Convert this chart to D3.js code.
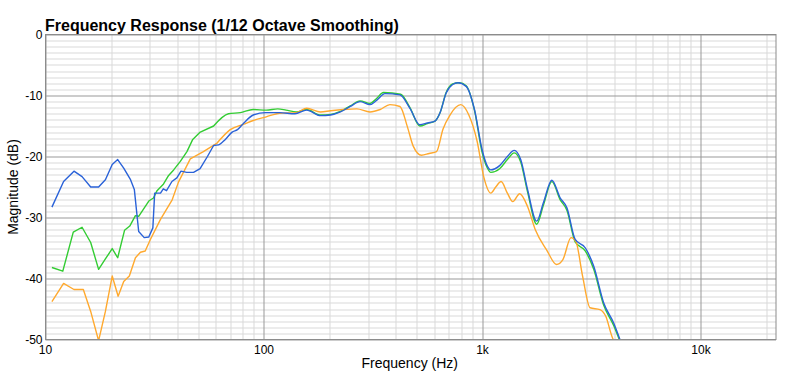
<!DOCTYPE html>
<html>
<head>
<meta charset="utf-8">
<script src="https://cdn.jsdelivr.net/npm/d3@7"></script>
<style>
body{margin:0;background:#fff;}
svg text{font-family:"Liberation Sans",Arial,Helvetica,sans-serif;fill:#000;}
</style>
</head>
<body>
<svg id="chart" width="808" height="379"></svg>
<script>
/** data: [frequency Hz, magnitude dB] */
var blueSeries = [
	[10.7,-28.3],[12.1,-24.1],[13.5,-22.4],[14.7,-23.3],[16.1,-25.0],[17.5,-25.0],[18.8,-23.8],
	[20.2,-21.3],[21.4,-20.5],[22.8,-21.9],[24.5,-23.8],[25.5,-25.4],[26.7,-32.3],[28.3,-33.3],
	[29.7,-33.2],[31.0,-31.7],[31.6,-26.0],[33.6,-26.0],[34.6,-25.3],[35.8,-25.6],[37.9,-24.1],
	[39.9,-23.5],[41.7,-22.4],[44.3,-22.6],[47.6,-22.6],[51.0,-22.0],[55.1,-20.0],[58.8,-18.2],
	[62.0,-18.1],[66.5,-17.2],[71.5,-16.0],[75.6,-15.6],[80.9,-14.5],[89.3,-13.2],[101.6,-12.8],
	[117.9,-12.8],[138.6,-13.0],[156.8,-12.4],[181.4,-13.3],[201.7,-13.2],[223.7,-12.7],
	[248.2,-11.8],[275.4,-11.0],[305.6,-11.5],[327.6,-10.8],[357.7,-9.7],[419,-9.9],[465.6,-12.1],
	[517,-14.8],[560,-14.5],[606,-14.2],[640,-12.8],[682,-9.6],[730,-8.2],[771,-7.9],[842,-8.5],
	[919,-12.3],[996,-18.9],[1050,-21.5],[1092,-22.2],[1198,-21.5],[1300,-20.0],[1397,-19.0],
	[1496,-20.5],[1608,-25.4],[1771,-30.6],[1900,-27.6],[2077,-23.9],[2269,-26.8],[2434,-28.4],
	[2656,-33.6],[2958,-35.0],[3230,-38.0],[3589,-44.0],[3985,-47.3],[4277,-50.2]
];
var greenSeries = [
	[10.7,-38.2],[12.0,-38.8],[13.4,-32.4],[14.7,-31.6],[16.1,-34.1],[17.5,-38.5],[18.8,-36.8],
	[20.2,-35.1],[21.4,-36.6],[23.0,-32.1],[24.3,-31.4],[25.8,-29.7],[26.7,-29.8],[29.7,-27.3],
	[31.2,-26.8],[32.4,-25.6],[34.7,-24.5],[36.6,-23.1],[38.6,-22.2],[41.4,-20.8],[44.4,-19.2],
	[47.2,-17.2],[51.1,-16.0],[58.8,-15.0],[68.8,-13.0],[77.9,-12.8],[89.3,-12.3],[102.4,-12.4],
	[115.6,-12.2],[126.2,-12.4],[140.8,-12.7],[156.8,-12.3],[181.4,-13.2],[201.7,-13.1],
	[223.7,-12.6],[248.2,-11.7],[275.4,-10.9],[305.6,-11.3],[327.6,-10.5],[352,-9.5],[422,-9.8],
	[465.6,-12.0],[517,-15.0],[560,-14.6],[606,-14.2],[640,-12.8],[682,-9.5],[730,-8.1],
	[784,-7.9],[842,-8.4],[919,-12.4],[996,-19.3],[1050,-21.8],[1092,-22.6],[1198,-22.0],
	[1300,-20.5],[1397,-19.4],[1496,-20.9],[1608,-25.8],[1771,-31.1],[1900,-28.0],[2077,-24.1],
	[2269,-27.1],[2434,-28.8],[2656,-34.0],[2958,-35.5],[3230,-38.5],[3589,-44.4],[3985,-47.7],
	[4250,-50.2]
];
var orangeSeries = [
	[10.7,-43.8],[12.1,-40.8],[13.5,-41.8],[14.9,-41.8],[16.1,-45.4],[17.5,-50.2],[18.8,-45.4],
	[20.2,-39.6],[21.5,-42.9],[22.8,-40.5],[24.2,-39.6],[25.8,-36.6],[27.2,-35.7],[28.6,-35.5],
	[30.2,-33.6],[33.6,-30.3],[38.0,-27.1],[40.6,-24.2],[46.0,-20.4],[52.8,-19.2],[61.0,-17.8],
	[70.1,-15.6],[80.9,-14.7],[89.3,-14.1],[102.4,-13.5],[117.9,-12.9],[140.8,-12.8],
	[156.8,-12.1],[181.4,-12.7],[201.7,-12.5],[231,-12.3],[266,-12.2],[305.6,-12.7],[340,-12.3],
	[377,-11.5],[419,-11.8],[453,-15.1],[482,-18.3],[526,-19.8],[570,-19.5],[616,-19.2],
	[660,-15.5],[710,-13.2],[795,-11.5],[866,-13.2],[945,-17.5],[1016,-23.5],[1092,-26.0],
	[1150,-25.0],[1217,-24.1],[1300,-26.0],[1376,-27.4],[1480,-26.1],[1608,-28.2],[1745,-32.0],
	[1965,-35.3],[2182,-37.7],[2334,-36.9],[2542,-33.3],[2675,-33.9],[2872,-39.6],[3108,-44.8],
	[3449,-45.1],[3667,-46.2],[3914,-49.5],[3990,-50.2]
];
var seriesColors = ['#33cc33', '#ffa92e', '#2a62d8'];
var majorTicks = [10, 100, 1000, 10000];
var majorLabels = ['10', '100', '1k', '10k'];
var dbTicks = [0, -10, -20, -30, -40, -50];

var svg = d3.select('#chart');
var margin = {left:45.5, top:34.5, right:32, bottom:39.5};
var width = 808 - margin.left - margin.right;
var height = 379 - margin.top - margin.bottom;

var xScale = d3.scaleLog().domain([10, 22050]).range([0, width]);
var yScale = d3.scaleLinear().domain([-50, 0]).range([height, 0]);

var g = svg.append('g').attr('transform', 'translate(' + margin.left + ',' + margin.top + ')');

// minor grid (1 dB and 2..9 per decade)
var minorDb = d3.range(-49, 0).filter(function(d){ return d % 10 !== 0; });
g.selectAll('.hgrid-minor').data(minorDb).enter().append('line')
	.attr('x1', 0).attr('x2', width)
	.attr('y1', function(d){ return Math.round(yScale(d)) + 0.5; })
	.attr('y2', function(d){ return Math.round(yScale(d)) + 0.5; })
	.attr('stroke', '#d9d9d9').attr('stroke-width', 1);

var minorFreq = [];
majorTicks.forEach(function(dec){
	for(var k = 2; k <= 9; k++){ if(dec * k < 22050) minorFreq.push(dec * k); }
});
g.selectAll('.vgrid-minor').data(minorFreq).enter().append('line')
	.attr('y1', 0).attr('y2', height)
	.attr('x1', function(d){ return Math.round(xScale(d)) + 0.5; })
	.attr('x2', function(d){ return Math.round(xScale(d)) + 0.5; })
	.attr('stroke', '#d9d9d9').attr('stroke-width', 1);

// major grid
g.selectAll('.hgrid-major').data(dbTicks).enter().append('line')
	.attr('x1', 0).attr('x2', width)
	.attr('y1', function(d){ return Math.round(yScale(d)) + 0.5; })
	.attr('y2', function(d){ return Math.round(yScale(d)) + 0.5; })
	.attr('stroke', '#999').attr('stroke-width', 1);
g.selectAll('.vgrid-major').data(majorTicks).enter().append('line')
	.attr('y1', 0).attr('y2', height)
	.attr('x1', function(d){ return Math.round(xScale(d)) + 0.5; })
	.attr('x2', function(d){ return Math.round(xScale(d)) + 0.5; })
	.attr('stroke', '#999').attr('stroke-width', 1);

// curves, clipped to plot area
svg.append('defs').append('clipPath').attr('id', 'plot-clip')
	.append('rect').attr('x', 0).attr('y', 0).attr('width', width).attr('height', height);

// sparse low end is drawn with straight segments, denser upper part smoothed
var lowCut = 56;
var lineLow = d3.line()
	.x(function(d){ return xScale(d[0]); })
	.y(function(d){ return yScale(d[1]); });
var lineHigh = d3.line()
	.x(function(d){ return xScale(d[0]); })
	.y(function(d){ return yScale(d[1]); })
	.curve(d3.curveMonotoneX);

function splitSeries(s){
	var idx = s.findIndex(function(d){ return d[0] >= lowCut; });
	return [s.slice(0, idx + 1), s.slice(idx)];
}

var curves = g.append('g').attr('clip-path', 'url(#plot-clip)');
[greenSeries, orangeSeries, blueSeries].forEach(function(s, i){
	var parts = splitSeries(s);
	var d = lineLow(parts[0]) + lineHigh(parts[1]).replace(/^M/, 'L');
	curves.append('path')
		.attr('d', d)
		.attr('fill', 'none')
		.attr('stroke', seriesColors[i])
		.attr('stroke-width', 1.4)
		.attr('stroke-linejoin', 'round');
});

// frame
g.append('rect').attr('x', 0).attr('y', 0).attr('width', width).attr('height', height)
	.attr('fill', 'none').attr('stroke', '#8c8c8c').attr('stroke-width', 1);

// tick labels
g.selectAll('.ylab').data(dbTicks).enter().append('text')
	.attr('x', -3).attr('y', function(d){ return yScale(d); })
	.attr('dy', '0.35em').attr('text-anchor', 'end')
	.style('font-size', '12px')
	.text(function(d){ return d; });

g.selectAll('.xlab').data(majorTicks).enter().append('text')
	.attr('x', function(d){ return xScale(d); }).attr('y', height + 14)
	.attr('text-anchor', 'middle')
	.style('font-size', '12px')
	.text(function(d, i){ return majorLabels[i]; });

// titles
svg.append('text').attr('x', 45).attr('y', 31)
	.style('font-size', '16px').style('font-weight', 'bold')
	.text('Frequency Response (1/12 Octave Smoothing)');

svg.append('text').attr('x', margin.left + width / 2 - 1).attr('y', 368)
	.attr('text-anchor', 'middle').style('font-size', '14px')
	.text('Frequency (Hz)');

svg.append('text')
	.attr('transform', 'translate(18,' + (margin.top + height / 2) + ') rotate(-90)')
	.attr('text-anchor', 'middle').style('font-size', '14px')
	.text('Magnitude (dB)');
</script>
</body>
</html>
